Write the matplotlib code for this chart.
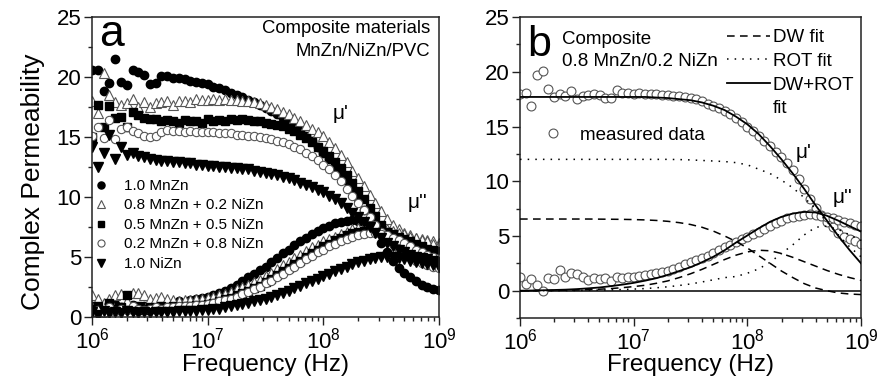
import matplotlib
matplotlib.use("Agg")
import matplotlib.pyplot as plt
import numpy as np
from matplotlib.ticker import MultipleLocator
from matplotlib.lines import Line2D

plt.rcParams['font.family'] = ['Liberation Sans', 'DejaVu Sans']
plt.rcParams['mathtext.fontset'] = 'custom'
plt.rcParams['mathtext.rm'] = 'Liberation Sans'

# -----------------------------
# Data
# -----------------------------

# measurement frequencies, log10(Hz)
log_freq = [6.00, 6.05, 6.10, 6.15, 6.20, 6.25, 6.30, 6.35, 6.40, 6.45,
            6.50, 6.55, 6.60, 6.65, 6.70, 6.75, 6.80, 6.85, 6.90, 6.95,
            7.00, 7.05, 7.10, 7.15, 7.20, 7.25, 7.30, 7.35, 7.40, 7.45,
            7.50, 7.55, 7.60, 7.65, 7.70, 7.75, 7.80, 7.85, 7.90, 7.95,
            8.00, 8.05, 8.10, 8.15, 8.20, 8.25, 8.30, 8.35, 8.40, 8.45,
            8.50, 8.55, 8.60, 8.65, 8.70, 8.75, 8.80, 8.85, 8.90, 8.95, 9.00]

# panel a : mu' and mu'' of the five composites
mu1_mnzn = [20.6, 20.6, 18.8, 19.5, 21.5, 19.6, 19.3, 20.6, 20.4, 20.2,
            19.4, 19.5, 20.1, 20.1, 19.9, 19.9, 19.8, 19.7, 19.6, 19.5,
            19.4, 19.2, 19.05, 18.9, 18.7, 18.5, 18.3, 18.1, 17.9, 17.7,
            17.45, 17.2, 16.9, 16.6, 16.3, 15.9, 15.5, 15.1, 14.7, 14.2,
            13.7, 13.2, 12.6, 12.0, 11.3, 10.6, 9.8, 8.9, 8.0, 7.1,
            6.2, 5.4, 4.7, 4.1, 3.7, 3.3, 3.0, 2.7, 2.5, 2.35, 2.25]
mu2_mnzn = [0.9, 0.3, 0.6, 0.5, 1.1, 0.8, 0.7, 1.0, 0.6, 0.9,
            0.8, 1.0, 0.9, 1.1, 1.0, 1.3, 1.2, 1.4, 1.5, 1.6,
            1.7, 1.8, 2.0, 2.2, 2.4, 2.7, 3.0, 3.3, 3.6, 3.9,
            4.2, 4.6, 4.9, 5.3, 5.6, 6.0, 6.3, 6.6, 6.9, 7.2,
            7.4, 7.6, 7.8, 7.9, 8.0, 8.05, 8.0, 7.9, 7.7, 7.5,
            7.2, 6.9, 6.6, 6.4, 6.2, 6.0, 5.8, 5.6, 5.5, 5.4, 5.3]

mu1_08 = [18.0, 17.0, 20.3, 18.5, 17.9, 17.7, 17.8, 18.2, 17.5, 17.9,
          17.5, 17.8, 17.9, 18.0, 17.7, 18.0, 18.0, 17.9, 18.2, 18.1,
          18.1, 18.2, 18.1, 18.2, 18.1, 18.1, 18.0, 18.0, 17.9, 17.8,
          17.7, 17.5, 17.3, 17.1, 16.9, 16.6, 16.3, 16.0, 15.7, 15.4,
          15.1, 14.6, 14.1, 13.5, 12.9, 12.2, 11.6, 10.9, 10.2, 9.5,
          8.8, 8.2, 7.7, 7.3, 7.0, 6.8, 6.6, 6.5, 6.4, 6.3, 6.2]
mu2_08 = [1.8, 1.5, 1.2, 1.5, 1.8, 1.9, 1.3, 2.0, 2.0, 1.8,
          1.5, 1.6, 1.7, 1.5, 1.4, 1.3, 1.4, 1.4, 1.5, 1.5,
          1.6, 1.7, 1.8, 1.9, 2.1, 2.3, 2.5, 2.7, 2.9, 3.1,
          3.4, 3.7, 4.0, 4.3, 4.6, 4.9, 5.2, 5.5, 5.8, 6.0,
          6.3, 6.5, 6.7, 6.9, 7.1, 7.3, 7.4, 7.5, 7.5, 7.5,
          7.4, 7.3, 7.2, 7.0, 6.9, 6.7, 6.6, 6.4, 6.3, 6.1, 6.0]

mu1_05 = [15.0, 17.7, 15.8, 17.6, 16.6, 16.7, 15.8, 17.1, 16.8, 16.6,
          16.5, 16.5, 16.3, 16.4, 16.3, 16.2, 16.4, 16.3, 16.3, 16.2,
          16.5, 16.3, 16.4, 16.3, 16.5, 16.4, 16.5, 16.4, 16.3, 16.3,
          16.2, 16.1, 16.0, 15.9, 15.7, 15.5, 15.2, 14.9, 14.6, 14.2,
          13.8, 13.4, 12.9, 12.4, 11.8, 11.2, 10.5, 9.8, 9.1, 8.4,
          7.7, 7.1, 6.5, 6.0, 5.6, 5.3, 5.0, 4.8, 4.6, 4.5, 4.4]
mu2_05 = [0.5, 0.9, 0.4, 1.2, 0.6, 0.8, 1.8, 0.7, 0.9, 0.6,
          0.8, 0.7, 0.9, 0.8, 0.9, 0.8, 0.9, 0.9, 1.0, 1.0,
          1.1, 1.2, 1.3, 1.5, 1.6, 1.8, 2.0, 2.2, 2.4, 2.6,
          2.9, 3.2, 3.5, 3.8, 4.1, 4.4, 4.7, 5.0, 5.3, 5.6,
          5.9, 6.1, 6.4, 6.6, 6.8, 7.0, 7.1, 7.2, 7.3, 7.3,
          7.2, 7.1, 6.9, 6.7, 6.5, 6.3, 6.1, 5.9, 5.7, 5.6, 5.5]

mu1_02 = [15.1, 15.8, 14.9, 16.4, 14.8, 15.7, 15.8, 15.5, 15.3, 15.1,
          15.0, 15.1, 15.4, 15.6, 15.5, 15.5, 15.4, 15.5, 15.4, 15.4,
          15.4, 15.4, 15.3, 15.3, 15.3, 15.2, 15.2, 15.1, 15.1, 15.0,
          14.9, 14.8, 14.7, 14.6, 14.4, 14.2, 14.0, 13.7, 13.4, 13.1,
          12.7, 12.3, 11.8, 11.3, 10.7, 10.1, 9.5, 8.9, 8.3, 7.7,
          7.1, 6.6, 6.1, 5.7, 5.3, 5.0, 4.7, 4.5, 4.3, 4.2, 4.1]
mu2_02 = [0.4, 0.6, 0.3, 0.8, 0.5, 0.7, 0.6, 0.9, 0.7, 0.6,
          0.7, 0.8, 0.7, 0.8, 0.8, 0.9, 0.9, 0.9, 1.0, 1.0,
          1.1, 1.2, 1.3, 1.4, 1.5, 1.7, 1.9, 2.1, 2.3, 2.5,
          2.8, 3.0, 3.3, 3.6, 3.9, 4.2, 4.5, 4.8, 5.1, 5.4,
          5.6, 5.9, 6.1, 6.3, 6.5, 6.7, 6.8, 6.9, 7.0, 7.0,
          6.9, 6.8, 6.6, 6.4, 6.2, 5.9, 5.6, 5.4, 5.2, 5.0, 4.9]

mu1_nizn = [14.2, 12.5, 13.7, 15.2, 13.2, 14.2, 13.5, 13.7, 13.4, 13.3,
            13.2, 13.1, 13.0, 13.0, 12.9, 12.9, 12.8, 12.8, 12.7, 12.7,
            12.6, 12.6, 12.5, 12.5, 12.4, 12.4, 12.3, 12.3, 12.2, 12.1,
            12.0, 11.9, 11.8, 11.7, 11.6, 11.4, 11.2, 11.0, 10.8, 10.6,
            10.4, 10.1, 9.8, 9.5, 9.1, 8.7, 8.3, 7.9, 7.5, 7.0,
            6.6, 6.2, 5.9, 5.6, 5.4, 5.2, 5.0, 4.9, 4.8, 4.7, 4.6]
mu2_nizn = [0.4, 0.2, 0.5, 0.3, 0.4, 0.3, 0.5, 0.4, 0.3, 0.4,
            0.3, 0.4, 0.4, 0.4, 0.4, 0.5, 0.5, 0.5, 0.5, 0.6,
            0.6, 0.7, 0.7, 0.8, 0.9, 1.0, 1.1, 1.2, 1.3, 1.4,
            1.5, 1.7, 1.8, 2.0, 2.2, 2.4, 2.6, 2.8, 3.0, 3.2,
            3.4, 3.6, 3.8, 4.0, 4.2, 4.4, 4.6, 4.7, 4.8, 4.9,
            5.0, 5.0, 5.0, 4.9, 4.8, 4.7, 4.6, 4.5, 4.4, 4.3, 4.2]

labels_a = ["1.0 MnZn", "0.8 MnZn + 0.2 NiZn", "0.5 MnZn + 0.5 NiZn",
            "0.2 MnZn + 0.8 NiZn", "1.0 NiZn"]

# panel b : measured 0.8 MnZn / 0.2 NiZn composite
meas_mu1 = [18.0, 18.1, 16.9, 19.7, 20.1, 18.4, 17.7, 18.0, 17.8, 18.2,
            17.5, 17.8, 17.9, 18.0, 17.9, 17.6, 17.6, 18.3, 18.1, 18.1,
            18.0, 18.1, 18.0, 18.0, 18.0, 17.9, 17.9, 17.8, 17.8, 17.7,
            17.6, 17.5, 17.3, 17.1, 16.9, 16.7, 16.4, 16.1, 15.8, 15.4,
            15.0, 14.6, 14.1, 13.7, 13.2, 12.7, 12.2, 11.7, 11.0, 10.2,
            9.3, 8.4, 7.6, 6.9, 6.3, 5.8, 5.3, 4.9, 4.7, 4.5, 4.3]
meas_mu2 = [1.3, 0.6, 1.1, 0.5, 0.0, 1.2, 1.1, 1.9, 1.25, 1.6,
            1.5, 1.3, 1.0, 1.15, 1.1, 1.2, 0.9, 1.25, 1.2, 1.25,
            1.3, 1.35, 1.4, 1.5, 1.6, 1.7, 1.8, 2.0, 2.2, 2.4,
            2.6, 2.8, 3.0, 3.2, 3.45, 3.7, 3.95, 4.2, 4.45, 4.7,
            4.9, 5.15, 5.4, 5.65, 5.9, 6.15, 6.4, 6.6, 6.75, 6.85,
            6.95, 7.0, 6.95, 6.85, 6.75, 6.6, 6.45, 6.3, 6.15, 6.0, 5.9]

# fit curves, log10(Hz)
log_freq_fit = [6.0, 6.1, 6.2, 6.3, 6.4, 6.5, 6.6, 6.7, 6.8, 6.9,
                7.0, 7.1, 7.2, 7.3, 7.4, 7.5, 7.6, 7.7, 7.8, 7.9,
                8.0, 8.1, 8.2, 8.3, 8.4, 8.5, 8.6, 8.7, 8.8, 8.9, 9.0]
dw_mu1 = [6.55, 6.55, 6.55, 6.55, 6.55, 6.55, 6.55, 6.54, 6.53, 6.52,
          6.5, 6.47, 6.42, 6.34, 6.22, 6.05, 5.8, 5.45, 5.0, 4.5,
          3.9, 3.2, 2.5, 1.8, 1.2, 0.65, 0.25, 0.0, -0.2, -0.3, -0.35]
dw_mu2 = [0.0, 0.01, 0.02, 0.03, 0.05, 0.07, 0.1, 0.14, 0.2, 0.28,
          0.38, 0.5, 0.68, 0.9, 1.2, 1.55, 1.95, 2.4, 2.85, 3.25,
          3.55, 3.7, 3.65, 3.4, 3.05, 2.65, 2.25, 1.85, 1.5, 1.2, 0.95]
rot_mu1 = [12.0, 12.0, 12.0, 12.0, 12.0, 12.0, 12.0, 12.0, 12.0, 12.0,
           12.0, 12.0, 12.0, 12.0, 11.98, 11.95, 11.9, 11.85, 11.8, 11.7,
           11.5, 11.1, 10.7, 10.1, 9.4, 8.5, 7.5, 6.3, 5.1, 4.0, 3.1]
rot_mu2 = [0.0, 0.0, 0.01, 0.01, 0.02, 0.03, 0.04, 0.06, 0.08, 0.11,
           0.15, 0.2, 0.27, 0.36, 0.48, 0.62, 0.8, 1.0, 1.2, 1.3,
           1.6, 2.0, 2.6, 3.4, 4.2, 5.1, 5.8, 5.9, 5.6, 5.1, 4.6]
tot_mu1 = [17.7, 17.7, 17.7, 17.7, 17.7, 17.7, 17.7, 17.7, 17.7, 17.7,
           17.7, 17.7, 17.65, 17.6, 17.5, 17.4, 17.2, 16.9, 16.5, 15.9,
           15.2, 14.3, 13.2, 12.0, 10.7, 9.3, 7.8, 6.4, 5.0, 3.7, 2.5]
tot_mu2 = [0.0, 0.02, 0.04, 0.07, 0.1, 0.15, 0.22, 0.3, 0.42, 0.56,
           0.72, 0.92, 1.15, 1.45, 1.8, 2.15, 2.6, 3.1, 3.7, 4.4,
           5.05, 5.7, 6.3, 6.75, 7.05, 7.2, 7.15, 6.85, 6.4, 5.9, 5.4]

freq = 10.0 ** np.array(log_freq)
freq_fit = 10.0 ** np.array(log_freq_fit)

SPINE = "#222222"
EDGE = "#555555"


def style_axes(ax, ymin):

    ax.set_xscale("log")
    ax.set_xlim(1e6, 1e9)
    ax.set_ylim(ymin, 25)
    ax.yaxis.set_major_locator(MultipleLocator(5))
    ax.yaxis.set_minor_locator(MultipleLocator(2.5))
    ax.tick_params(which="both", direction="out", top=False, right=False,
                   labelsize=16, color=SPINE, width=1.0)
    ax.tick_params(which="major", length=5.5, pad=2)
    ax.tick_params(which="minor", length=3)
    for sp in ax.spines.values():
        sp.set_linewidth(1.1)
        sp.set_color(SPINE)
    ax.set_xlabel("Frequency (Hz)", fontsize=17.5)


fig = plt.figure(figsize=(8.79, 3.87), dpi=100)
ax1 = fig.add_axes([0.1047, 0.181, 0.3948, 0.775])
ax2 = fig.add_axes([0.5916, 0.178, 0.388, 0.778])

# -----------------------------
# Panel a
# -----------------------------

series_a = [
    (mu1_mnzn, mu2_mnzn, dict(marker="o", ms=6, mfc="black", mec="black")),
    (mu1_08, mu2_08, dict(marker="^", ms=6.5, mfc="white", mec=EDGE, mew=0.8)),
    (mu1_05, mu2_05, dict(marker="s", ms=5.5, mfc="black", mec="black")),
    (mu1_02, mu2_02, dict(marker="o", ms=6, mfc="white", mec=EDGE, mew=0.8)),
    (mu1_nizn, mu2_nizn, dict(marker="v", ms=6.5, mfc="black", mec="black")),
]

for (m1, m2, st), lab in zip(series_a, labels_a):
    ax1.plot(freq, m1, linestyle="none", label=lab, **st)
    ax1.plot(freq, m2, linestyle="none", **st)

style_axes(ax1, 0)
ax1.set_ylabel("Complex Permeability", fontsize=19)
ax1.yaxis.set_label_coords(-0.135, 0.45)
ax1.xaxis.set_label_coords(0.5, -0.125)

leg_handles = [Line2D([], [], linestyle="none", **dict(st, ms=st["ms"] * 0.85))
               for _, _, st in series_a]
ax1.legend(leg_handles, labels_a, loc="upper left",
           bbox_to_anchor=(0.005, 0.46), frameon=False, fontsize=11,
           handlelength=1.0, handletextpad=1.0, labelspacing=0.36,
           borderpad=0, borderaxespad=0)

ax1.text(0.02, 1.01, "a", transform=ax1.transAxes, fontsize=32,
         ha="left", va="top")
ax1.text(0.975, 0.99, "Composite materials\nMnZn/NiZn/PVC",
         transform=ax1.transAxes, fontsize=13.3, ha="right", va="top",
         multialignment="right", linespacing=1.45)
ax1.text(0.715, 0.68, "μ'", transform=ax1.transAxes, fontsize=15,
         ha="center", va="center")
ax1.text(0.937, 0.38, "μ''", transform=ax1.transAxes, fontsize=15,
         ha="center", va="center")

# -----------------------------
# Panel b
# -----------------------------

ax2.axhline(0, color="black", lw=1.1, zorder=1)

circ = dict(marker="o", ms=6.4, mfc="white", mec=EDGE, mew=0.8,
            linestyle="none", zorder=2)
ax2.plot(freq, meas_mu1, **circ)
ax2.plot(freq, meas_mu2, **circ)

dash = (0, (5, 3.5))
dot = (0, (1, 4))
ax2.plot(freq_fit, dw_mu1, color="black", lw=1.1, ls=dash, zorder=3)
ax2.plot(freq_fit, dw_mu2, color="black", lw=1.1, ls=dash, zorder=3)
ax2.plot(freq_fit, rot_mu1, color="black", lw=1.1, ls=dot, zorder=3)
ax2.plot(freq_fit, rot_mu2, color="black", lw=1.1, ls=dot, zorder=3)
ax2.plot(freq_fit, tot_mu1, color="black", lw=1.3, zorder=4)
ax2.plot(freq_fit, tot_mu2, color="black", lw=1.3, zorder=4)

style_axes(ax2, -2.5)
ax2.xaxis.set_label_coords(0.5, -0.12)

fit_handles = [Line2D([], [], color="black", lw=1.1, ls=dash),
               Line2D([], [], color="black", lw=1.1, ls=dot),
               Line2D([], [], color="black", lw=1.3),
               Line2D([], [], color="none")]
leg_fit = ax2.legend(fit_handles, ["DW fit", "ROT fit", "DW+ROT", "fit"],
                     loc="upper left", bbox_to_anchor=(0.607, 0.96),
                     frameon=False, fontsize=13.5, handlelength=2.3,
                     handletextpad=0.15, labelspacing=0.35,
                     borderpad=0, borderaxespad=0)
ax2.add_artist(leg_fit)

ax2.legend([Line2D([], [], **circ)], ["measured data"], loc="center left",
           bbox_to_anchor=(0.07, 0.608), frameon=False, fontsize=13.5,
           handlelength=1.0, handletextpad=0.9, borderpad=0, borderaxespad=0)

ax2.text(0.02, 0.975, "b", transform=ax2.transAxes, fontsize=31,
         ha="left", va="top")
ax2.text(0.123, 0.955, "Composite\n0.8 MnZn/0.2 NiZn",
         transform=ax2.transAxes, fontsize=13.5, ha="left", va="top",
         linespacing=1.45)
ax2.text(0.83, 0.55, "μ'", transform=ax2.transAxes, fontsize=15,
         ha="center", va="center")
ax2.text(0.947, 0.40, "μ''", transform=ax2.transAxes, fontsize=15,
         ha="center", va="center")

fig.savefig("out.png", dpi=100)
